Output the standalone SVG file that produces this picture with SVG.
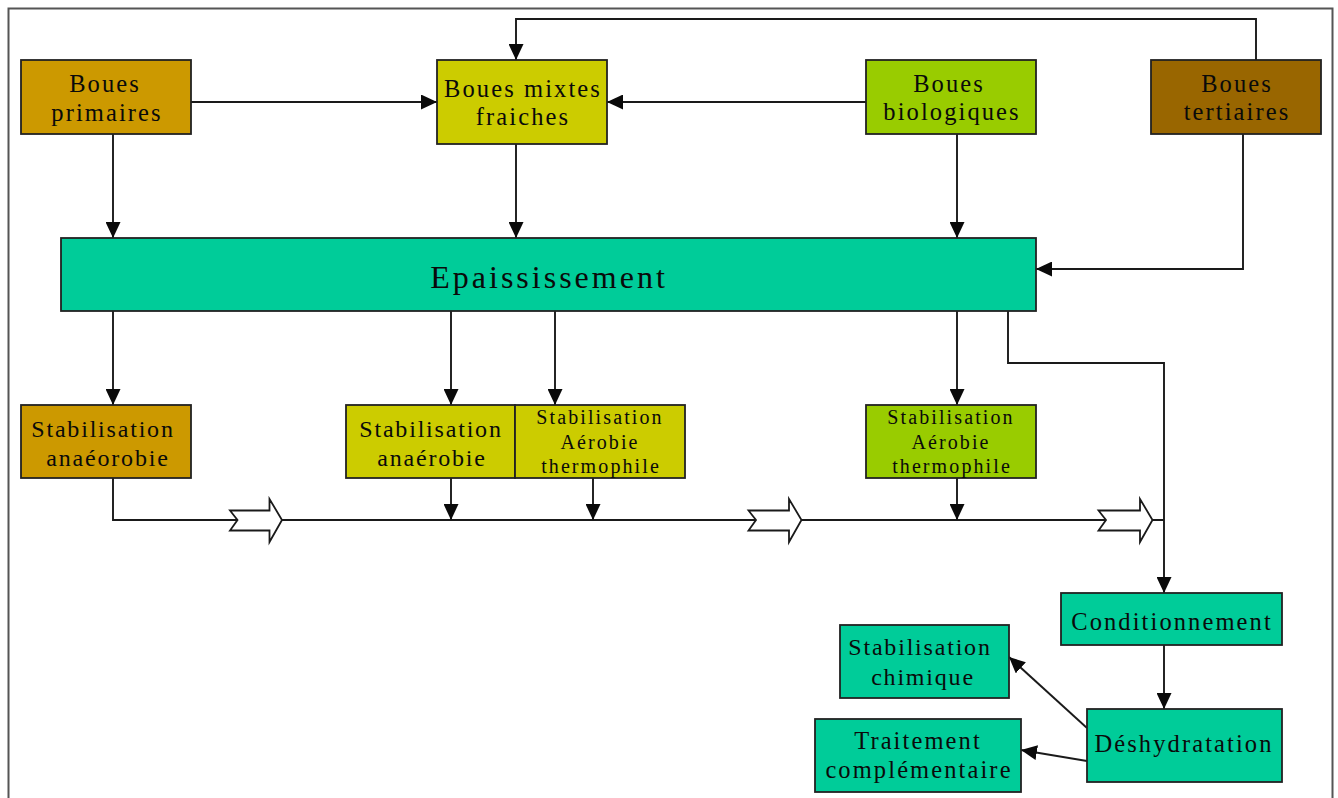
<svg xmlns="http://www.w3.org/2000/svg" width="1338" height="798" viewBox="0 0 1338 798">
<style>
.box{stroke:#222;stroke-width:1.8}
.t{font-family:"Liberation Serif","Times New Roman",serif;font-size:24.5px;letter-spacing:2.1px;fill:#0a0a0a;text-anchor:middle}
.n{font-size:24px;letter-spacing:1.8px}
.s{font-size:20px;letter-spacing:2.1px}
.big{font-size:32px;letter-spacing:3px}
.ln{fill:none;stroke:#1a1a1a;stroke-width:1.9}
.blk{fill:#fff;stroke:#1a1a1a;stroke-width:1.8;stroke-linejoin:miter}
.c1{fill:#CC9900}.c2{fill:#CCCC00}.c3{fill:#99CC00}.c4{fill:#996600}.c5{fill:#00CC99}
</style>
<defs>
<marker id="ah" markerUnits="userSpaceOnUse" markerWidth="17" markerHeight="15" viewBox="0 0 17 15" refX="16" refY="7.5" orient="auto">
<path d="M0,0 L16,7.5 L0,15 z" fill="#0a0a0a"/>
</marker>
</defs>
<rect width="1338" height="798" fill="#fff"/>
<rect x="8.5" y="8.5" width="1324" height="800" fill="none" stroke="#555" stroke-width="2"/>

<g id="connectors">
<polyline class="ln" points="1256,60 1256,19 516,19 516,60" marker-end="url(#ah)"/>
<line class="ln" x1="191" y1="102" x2="437" y2="102" marker-end="url(#ah)"/>
<line class="ln" x1="866" y1="102" x2="607" y2="102" marker-end="url(#ah)"/>
<line class="ln" x1="113" y1="134" x2="113" y2="238" marker-end="url(#ah)"/>
<line class="ln" x1="516" y1="144" x2="516" y2="238" marker-end="url(#ah)"/>
<line class="ln" x1="957" y1="134" x2="957" y2="238" marker-end="url(#ah)"/>
<polyline class="ln" points="1243,134 1243,269 1036,269" marker-end="url(#ah)"/>
<line class="ln" x1="113" y1="311" x2="113" y2="405" marker-end="url(#ah)"/>
<line class="ln" x1="451" y1="311" x2="451" y2="405" marker-end="url(#ah)"/>
<line class="ln" x1="555" y1="311" x2="555" y2="405" marker-end="url(#ah)"/>
<line class="ln" x1="957" y1="311" x2="957" y2="405" marker-end="url(#ah)"/>
<polyline class="ln" points="1008,311 1008,363 1164,363 1164,593" marker-end="url(#ah)"/>
<polyline class="ln" points="113,478 113,520 1164,520"/>
<line class="ln" x1="451" y1="478" x2="451" y2="520" marker-end="url(#ah)"/>
<line class="ln" x1="593" y1="478" x2="593" y2="520" marker-end="url(#ah)"/>
<line class="ln" x1="957" y1="478" x2="957" y2="520" marker-end="url(#ah)"/>
<polygon class="blk" points="230,510.5 269.5,510.5 269.5,499 282,520 269.5,542 269.5,530.5 230,530.5 237.5,520"/>
<polygon class="blk" points="748.5,510.5 789,510.5 789,499 801.5,520 789,542 789,530.5 748.5,530.5 756,520"/>
<polygon class="blk" points="1098.5,510.5 1140,510.5 1140,499 1152.5,520 1140,542 1140,530.5 1098.5,530.5 1106,520"/>
<line class="ln" x1="1164" y1="645" x2="1164" y2="709" marker-end="url(#ah)"/>
<line class="ln" x1="1087" y1="728" x2="1009" y2="657" marker-end="url(#ah)"/>
<line class="ln" x1="1087" y1="761" x2="1021" y2="750" marker-end="url(#ah)"/>
</g>

<g id="boues-primaires"><rect class="box c1" x="21" y="60" width="170" height="74"/>
<text class="t" x="105" y="92">Boues</text><text class="t" x="107" y="121">primaires</text></g>
<g id="boues-mixtes"><rect class="box c2" x="437" y="60" width="170" height="84"/>
<text class="t" x="523" y="97">Boues mixtes</text><text class="t" x="523" y="125">fraiches</text></g>
<g id="boues-biologiques"><rect class="box c3" x="866" y="60" width="170" height="74"/>
<text class="t" x="949" y="92">Boues</text><text class="t" x="952" y="120">biologiques</text></g>
<g id="boues-tertiaires"><rect class="box c4" x="1151" y="60" width="170" height="74"/>
<text class="t" x="1237" y="92">Boues</text><text class="t" x="1237" y="120">tertiaires</text></g>
<g id="epaississement"><rect class="box c5" x="61" y="238" width="975" height="73"/>
<text class="t big" x="549" y="288">Epaississement</text></g>
<g id="stab-anaerobie-1"><rect class="box c1" x="21" y="405" width="170" height="73"/>
<text class="t n" x="103" y="437">Stabilisation</text><text class="t n" x="108" y="466">anaéorobie</text></g>
<g id="stab-anaerobie-2"><rect class="box c2" x="346" y="405" width="169" height="73"/>
<text class="t n" x="431" y="437">Stabilisation</text><text class="t n" x="432" y="466">anaérobie</text></g>
<g id="stab-aerobie-1"><rect class="box c2" x="515" y="405" width="170" height="73"/>
<text class="t s" x="600" y="424">Stabilisation</text><text class="t s" x="600" y="449">Aérobie</text><text class="t s" x="601" y="473">thermophile</text></g>
<g id="stab-aerobie-2"><rect class="box c3" x="866" y="405" width="170" height="73"/>
<text class="t s" x="951" y="424">Stabilisation</text><text class="t s" x="951" y="449">Aérobie</text><text class="t s" x="952" y="473">thermophile</text></g>
<g id="conditionnement"><rect class="box c5" x="1061" y="593" width="221" height="52"/>
<text class="t" x="1172" y="630">Conditionnement</text></g>
<g id="stab-chimique"><rect class="box c5" x="840" y="625" width="169" height="73"/>
<text class="t n" x="920" y="655">Stabilisation</text><text class="t n" x="923" y="685">chimique</text></g>
<g id="traitement"><rect class="box c5" x="815" y="719" width="206" height="73"/>
<text class="t" x="918" y="749">Traitement</text><text class="t" x="919" y="778">complémentaire</text></g>
<g id="deshydratation"><rect class="box c5" x="1087" y="709" width="195" height="73"/>
<text class="t" x="1184" y="752">Déshydratation</text></g>
</svg>
